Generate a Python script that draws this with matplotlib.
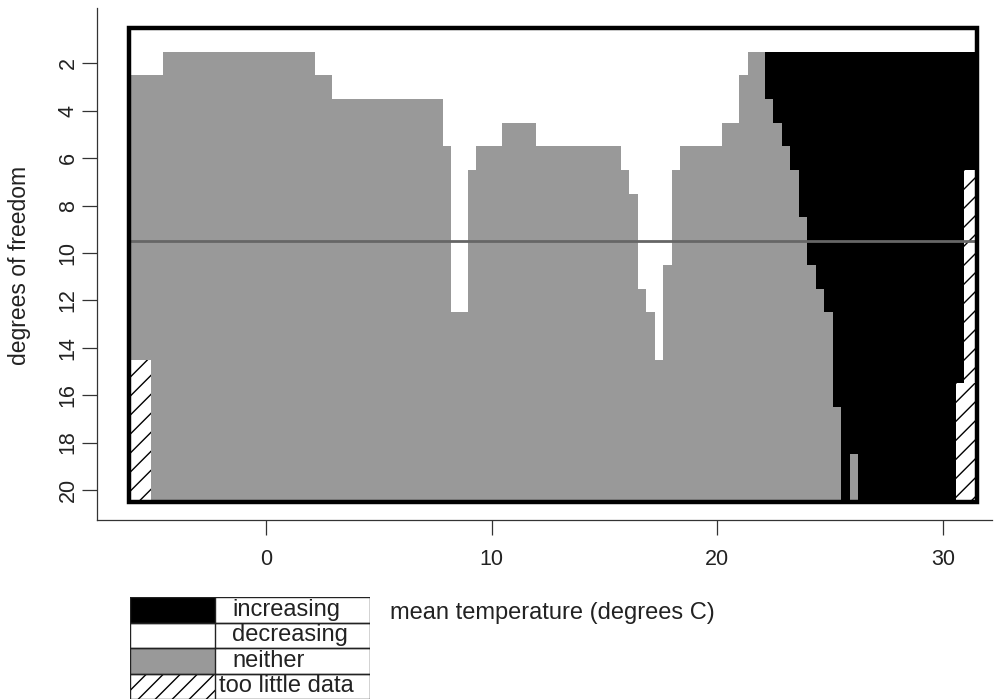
import numpy as np
import matplotlib.pyplot as plt
from matplotlib.patches import Rectangle
from matplotlib.colors import ListedColormap
from matplotlib.transforms import IdentityTransform

plt.rcParams['font.family'] = ['Liberation Sans', 'DejaVu Sans']

# column grid over mean temperature (degrees C), 100 columns
t_left, t_right, n_cols = -6.08, 31.5, 100
n_rows = 20  # degrees of freedom 1..20

# first non-white row for each column, run-length coded: (number of columns, row)
first_filled_runs = [(4, 3), (18, 2), (2, 3), (13, 4), (1, 6), (2, 13), (1, 7),
                     (3, 6), (4, 5), (10, 6), (1, 7), (1, 8), (1, 12), (1, 13),
                     (1, 15), (1, 11), (1, 7), (5, 6), (2, 5), (1, 3), (2, 2),
                     (25, 2)]
# last black ("increasing") row for each column, 0 = none
last_black_runs = [(75, 0), (1, 3), (1, 4), (1, 5), (1, 6), (1, 8), (1, 10),
                   (1, 11), (1, 12), (1, 16), (1, 20), (1, 18), (14, 20)]

# "too little data" areas: (temp from, temp to, first row, last row)
too_little = [(-6.08, -5.08, 15, 20),
              (30.93, 31.5, 7, 15),
              (30.57, 31.5, 16, 20)]

ref_df = 9.5
labels = ['increasing', 'decreasing', 'neither', 'too little data']
colors = {'increasing': 'black', 'decreasing': 'white', 'neither': '#999999'}

first_filled = np.concatenate([[v] * n for n, v in first_filled_runs])
last_black = np.concatenate([[v] * n for n, v in last_black_runs])

# 0 = decreasing, 1 = neither, 2 = increasing
grid = np.zeros((n_rows, n_cols))
rows = np.arange(1, n_rows + 1)
for k in range(n_cols):
    col = np.where(rows < first_filled[k], 0, 1)
    col = np.where((rows >= first_filled[k]) & (rows <= last_black[k]), 2, col)
    grid[:, k] = col

x_edges = np.linspace(t_left, t_right, n_cols + 1)
y_edges = np.arange(0.5, n_rows + 1.0, 1.0)


def hatch_rect(a, rect, step=19.0):
    # white box with "/" lines, spacing in pixels
    rect.set_facecolor('white')
    rect.set_linewidth(0)
    a.add_patch(rect)
    (x0, y0), (x1, y1) = a.transData.transform(rect.get_bbox().get_points())
    x0, x1 = sorted([x0, x1])
    y0, y1 = sorted([y0, y1])
    for c in np.arange(x0 - (y1 - y0), x1 + step, step):
        ln, = a.plot([c, c + (y1 - y0)], [y0, y1], color='black', lw=1.0,
                     transform=IdentityTransform(), zorder=rect.get_zorder() + 0.1)
        ln.set_clip_path(rect)


fig = plt.figure(figsize=(10.03, 7.0), dpi=100)
ax = fig.add_axes([96.7 / 1003, 180 / 700, (992 - 96.7) / 1003, 512 / 700])
ax.set_xlim(-7.5, 32.17)
ax.set_ylim(21.27, -0.34)

cmap = ListedColormap([colors['decreasing'], colors['neither'], colors['increasing']])
ax.pcolormesh(x_edges, y_edges, grid, cmap=cmap, vmin=-0.5, vmax=2.5)

for x0, x1, r0, r1 in too_little:
    hatch_rect(ax, Rectangle((x0, r0 - 0.5), x1 - x0, r1 - r0 + 1, zorder=2))

ax.hlines(ref_df, t_left, t_right, color='#666666', lw=2.0, zorder=4)
ax.add_patch(Rectangle((t_left, 0.5), t_right - t_left, n_rows,
                       fill=False, edgecolor='black', lw=3.2, zorder=5))

for s in ['top', 'right']:
    ax.spines[s].set_visible(False)
for s in ['left', 'bottom']:
    ax.spines[s].set_linewidth(0.9)
    ax.spines[s].set_color('#333333')
ax.set_xticks([0, 10, 20, 30])
ax.set_yticks(np.arange(2, 21, 2))
ax.tick_params(axis='both', length=11, width=0.9, labelsize=15.5,
               color='#333333', labelcolor='#222222')
ax.tick_params(axis='x', pad=10)
ax.tick_params(axis='y', pad=2)
for lab in ax.get_yticklabels():
    lab.set_rotation(90)
    lab.set_va('center')
ax.set_facecolor('white')

fig.text(20 / 1003, 1 - 265 / 700, 'degrees of freedom', fontsize=16.5,
         rotation=90, ha='center', va='center', color='#222222')
fig.text(390 / 1003, 1 - 613 / 700, 'mean temperature (degrees C)',
         fontsize=17, ha='left', va='center', color='#222222')

# legend table
lax = fig.add_axes([130 / 1003, 1 / 700, 240 / 1003, 102 / 700])
lax.set_xlim(0, 240)
lax.set_ylim(4, 0)
lax.axis('off')
swatch_w = 85
for i, lab in enumerate(labels):
    if lab == 'too little data':
        hatch_rect(lax, Rectangle((0, i), swatch_w, 1, zorder=1), step=17.0)
    else:
        lax.add_patch(Rectangle((0, i), swatch_w, 1, facecolor=colors[lab], lw=0))
    lax.add_patch(Rectangle((0, i), 240, 1, fill=False, edgecolor='#222222',
                            lw=1.0, zorder=3))
    lax.plot([swatch_w, swatch_w], [i, i + 1], color='#222222', lw=1.0, zorder=3)
    lax.text(swatch_w + 17 if i < 3 else swatch_w + 4, i + 0.5, lab,
             fontsize=17, ha='left', va='center', color='#222222')

fig.savefig('out.png', dpi=100)
